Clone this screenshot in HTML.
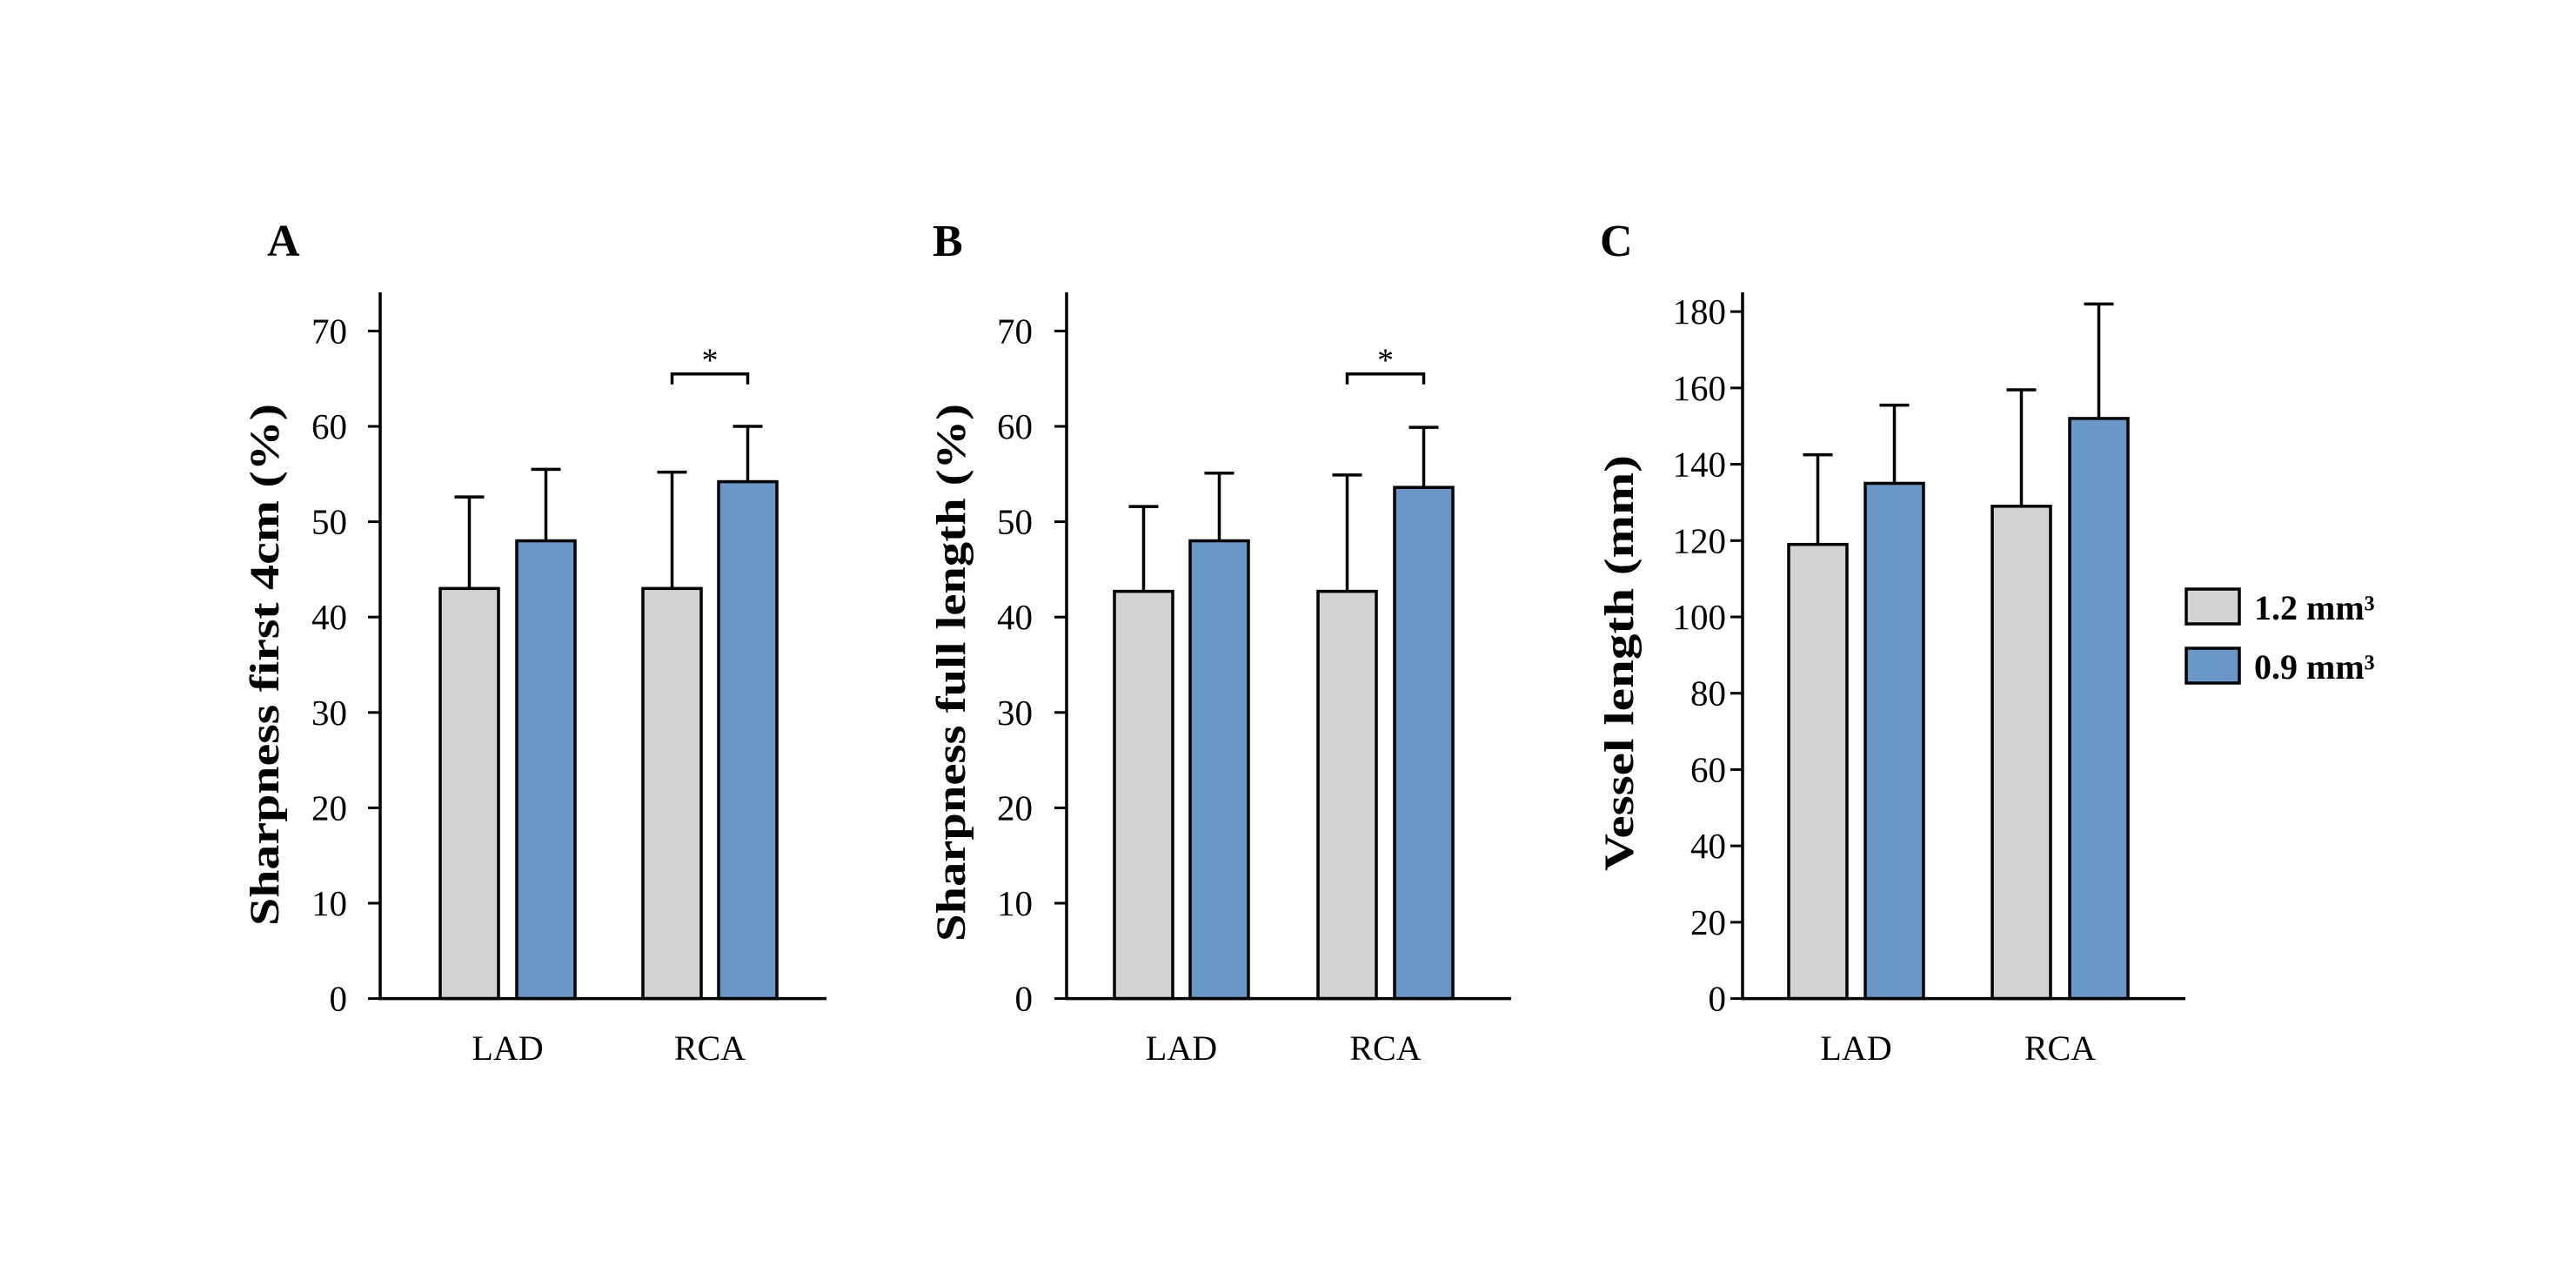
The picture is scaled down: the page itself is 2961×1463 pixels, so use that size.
<!DOCTYPE html>
<html><head><meta charset="utf-8"><style>
html,body{margin:0;padding:0;background:#fff;}
svg{display:block;}
text{font-family:"Liberation Serif",serif;fill:#000;}
</style></head><body>
<svg id="fig" width="2961" height="1463" viewBox="0 0 2961 1463" xmlns="http://www.w3.org/2000/svg"></svg>
<script>
const categories = ["LAD", "RCA"];
const seriesNames = ["1.2 mm³", "0.9 mm³"];
const aMeans12 = [43, 43];
const aMeans09 = [48, 54.2];
const aErr12 = [52.6, 55.2];
const aErr09 = [55.5, 60];
const bMeans12 = [42.7, 42.7];
const bMeans09 = [48, 53.6];
const bErr12 = [51.6, 54.9];
const bErr09 = [55.1, 59.9];
const cMeans12 = [119, 129];
const cMeans09 = [135, 152];
const cErr12 = [142.5, 159.5];
const cErr09 = [155.5, 182];
const abTicks = [0, 10, 20, 30, 40, 50, 60, 70];
const cTicks = [0, 20, 40, 60, 80, 100, 120, 140, 160, 180];
const sigBracketValue = 65.5;

const NS = "http://www.w3.org/2000/svg";
const svg = document.getElementById("fig");
function mk(tag, attrs, parent) {
  const e = document.createElementNS(NS, tag);
  for (const k in attrs) e.setAttribute(k, attrs[k]);
  (parent || svg).appendChild(e);
  return e;
}
const colors = ["#d3d3d3", "#6a97c8"];

function panel(cfg) {
  const g = mk("g", {});
  
  
  const base = 1147.6;
  const y = v => base - (v - cfg.vmin) * cfg.pxPerUnit;
  const L = mk("text", {x: cfg.letterX, y: 294, "font-size": 52, "font-weight": "bold"}, g);
  L.textContent = cfg.letter;
  
  
  const T = mk("text", {x: 0, y: 0, "font-size": 48, "font-weight": "bold", "text-anchor": "middle",
    transform: `translate(${cfg.titleX},${cfg.titleY}) rotate(-90)`, textLength: cfg.titleLen, lengthAdjust: "spacingAndGlyphs"}, g);
  T.textContent = cfg.title;
  
  
  cfg.ticks.forEach(t => {
    const ty = y(t);
    const tl = mk("line", {x1: cfg.axisX - 14, x2: cfg.axisX, y1: ty, y2: ty, stroke: "#000", "stroke-width": 3}, g);
    
    
    const tx = mk("text", {x: cfg.labelRight, y: ty + 14, "font-size": 41, "text-anchor": "end"}, g);
    tx.textContent = t;
    
    
  });
  const means = [cfg.m12, cfg.m09], errs = [cfg.e12, cfg.e09];
  categories.forEach((c, ci) => {
    [0, 1].forEach(si => {
      const x0 = cfg.barX[ci][si];
      const w = cfg.barW;
      const cx = x0 + w / 2;
      const top = y(means[si][ci]);
      const ey = y(errs[si][ci]);
      const el = mk("line", {x1: cx, x2: cx, y1: top, y2: ey, stroke: "#000", "stroke-width": 3.5}, g);
      
      
      const cap = mk("line", {x1: cx - 17, x2: cx + 17, y1: ey, y2: ey, stroke: "#000", "stroke-width": 3.5}, g);
      
      
      const r = mk("rect", {x: x0, y: top, width: w, height: base - top, fill: colors[si], stroke: "#000", "stroke-width": 3.5}, g);
      
      
    });
    const cl = mk("text", {x: (cfg.barX[ci][0] + cfg.barX[ci][1] + cfg.barW) / 2, y: 1218, "font-size": 40, "text-anchor": "middle"}, g);
    cl.textContent = c;
    
    
  });
  const ya = mk("line", {x1: cfg.axisX, x2: cfg.axisX, y1: 336, y2: base + 1.5, stroke: "#000", "stroke-width": 3.5}, g);
  
  
  const xa = mk("line", {x1: cfg.axisX - 1.5, x2: cfg.axisEnd, y1: base, y2: base, stroke: "#000", "stroke-width": 3.5}, g);
  
  
  if (cfg.sig) {
    const x1 = cfg.barX[1][0] + cfg.barW / 2, x2 = cfg.barX[1][1] + cfg.barW / 2;
    const by = y(sigBracketValue);
    const br = mk("polyline", {points: `${x1},${by + 12} ${x1},${by} ${x2},${by} ${x2},${by + 12}`, fill: "none", stroke: "#000", "stroke-width": 3.5}, g);
    
    
    const st = mk("text", {x: (x1 + x2) / 2, y: by - 3, "font-size": 38, "text-anchor": "middle"}, g);
    st.textContent = "*";
    
    
  }
}

panel({id: "panel-a", letter: "A", letterX: 307, title: "Sharpness first 4cm  (%)", titleX: 320, titleY: 764, titleLen: 600,
  axisX: 437, axisEnd: 950, labelRight: 399, ticks: abTicks, vmin: 0, pxPerUnit: 10.96,
  barX: [[506, 594], [739, 826]], barW: 67, m12: aMeans12, m09: aMeans09, e12: aErr12, e09: aErr09, sig: true});
panel({id: "panel-b", letter: "B", letterX: 1072, title: "Sharpness full length (%)", titleX: 1109, titleY: 773, titleLen: 618,
  axisX: 1226, axisEnd: 1737, labelRight: 1187, ticks: abTicks, vmin: 0, pxPerUnit: 10.96,
  barX: [[1281, 1368], [1515, 1603]], barW: 67, m12: bMeans12, m09: bMeans09, e12: bErr12, e09: bErr09, sig: true});
panel({id: "panel-c", letter: "C", letterX: 1839, title: "Vessel length (mm)", titleX: 1877, titleY: 762, titleLen: 478,
  axisX: 2003, axisEnd: 2512, labelRight: 1984, ticks: cTicks, vmin: 0, pxPerUnit: 4.386,
  barX: [[2056, 2144], [2290, 2379]], barW: 67, m12: cMeans12, m09: cMeans09, e12: cErr12, e09: cErr09, sig: false});

const lg = mk("g", {});


seriesNames.forEach((n, i) => {
  const ly = 677 + i * 68;
  const r = mk("rect", {x: 2513, y: ly, width: 61, height: 40, fill: colors[i], stroke: "#000", "stroke-width": 3.5}, lg);
  
  
  const t = mk("text", {x: 2591, y: ly + 35, "font-size": 40, "font-weight": "bold"}, lg);
  t.textContent = n;
  
  
});
</script>
</body></html>
